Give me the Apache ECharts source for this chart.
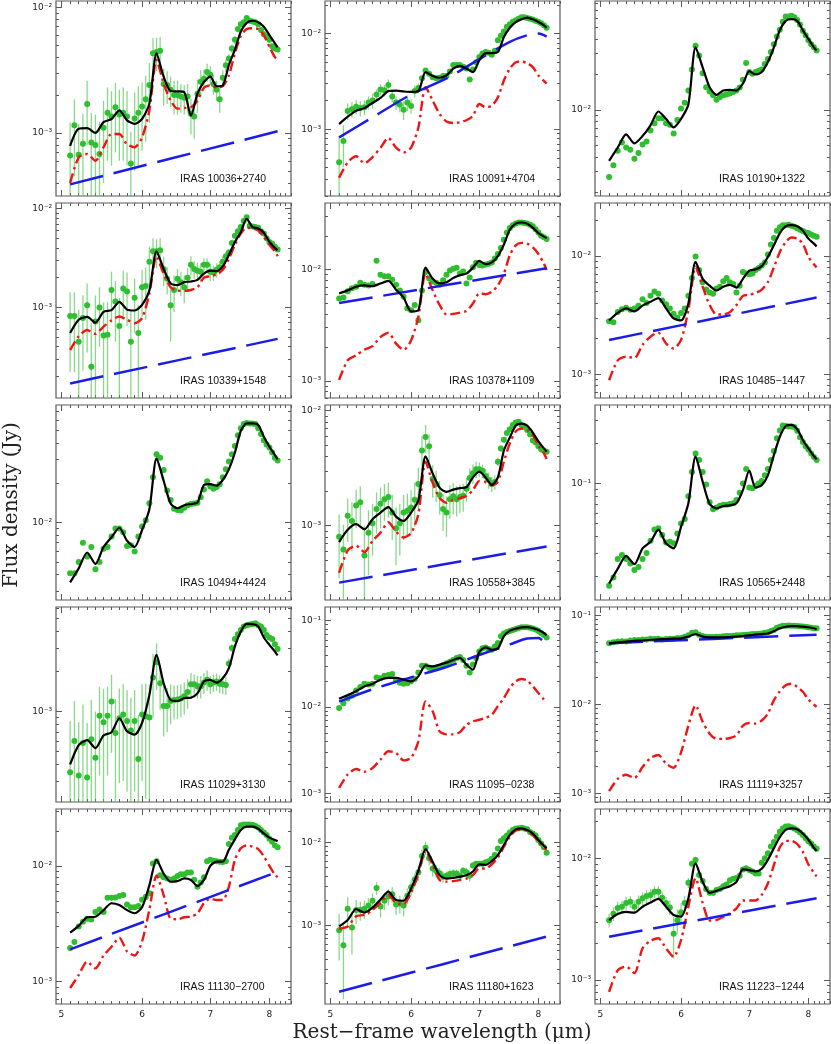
<!DOCTYPE html>
<html>
<head>
<meta charset="utf-8">
<title>IRAS mid-infrared spectra</title>
<script src="https://cdn.jsdelivr.net/npm/echarts@6.0.0/dist/echarts.min.js"></script>
<style>
  html, body { margin: 0; padding: 0; background: #fff; }
  #chart { width: 831px; height: 1044px; }
</style>
</head>
<body>
<div id="chart"></div>
<script>
"use strict";

// wavelength grids (micron): observed points every 0.05, fitted curves every 0.1
var waveData = [5.10, 5.15, 5.20, 5.25, 5.30, 5.35, 5.40, 5.45, 5.50, 5.55, 5.60, 5.65, 5.70, 5.75, 5.80, 5.85, 5.90, 5.95, 6.00, 6.05, 6.10, 6.15, 6.20, 6.25, 6.30, 6.35, 6.40, 6.45, 6.50, 6.55, 6.60, 6.65, 6.70, 6.75, 6.80, 6.85, 6.90, 6.95, 7.00, 7.05, 7.10, 7.15, 7.20, 7.25, 7.30, 7.35, 7.40, 7.45, 7.50, 7.55, 7.60, 7.65, 7.70, 7.75, 7.80, 7.85, 7.90, 7.95, 8.00, 8.05, 8.10, 8.15];
var waveModel = [5.1, 5.2, 5.3, 5.4, 5.5, 5.6, 5.7, 5.8, 5.9, 6.0, 6.1, 6.2, 6.3, 6.4, 6.5, 6.6, 6.7, 6.8, 6.9, 7.0, 7.1, 7.2, 7.3, 7.4, 7.5, 7.6, 7.7, 7.8, 7.9, 8.0, 8.1, 8.15];

// all fluxes below in mJy
// IRAS 10036+2740
var flux10036 = [0.66, 1.15, 0.67, 0.82, 1.7, 0.84, 0.8, 0.68, 1.1, 1.45, 1.35, 1.6, 1.4, 1.45, 1.35, 0.57, 1.3, 1.45, 1.62, 1.85, 2.4, 4.3, 4.4, 4.5, 2.45, 2.4, 2.2, 2.0, 2.0, 1.95, 1.9, 1.95, 1.42, 1.35, 2.05, 2.55, 2.7, 3.05, 2.9, 2.45, 2.2, 1.85, 2.75, 3.45, 3.9, 4.7, 5.5, 6.7, 7.3, 7.6, 8.2, 7.8, 7.7, 7.6, 7.3, 6.6, 6.1, 5.8, 5.5, 4.9, 4.7, 4.6];
var err10036 = [0.55, 0.7, 0.5, 0.6, 0.9, 0.6, 0.6, 0.55, 0.7, 0.85, 0.8, 0.9, 0.8, 0.85, 0.8, 0.45, 0.8, 0.9, 0.9, 1.0, 1.2, 1.4, 1.3, 1.3, 0.8, 0.7, 0.6, 0.6, 0.6, 0.5, 0.5, 0.5, 0.45, 0.45, 0.6, 0.6, 0.5, 0.5, 0.5, 0.45, 0.4, 0.4, 0.4, 0.4, 0.35, 0.35, 0.4, 0.4, 0.35, 0.3, 0.3, 0.3, 0.3, 0.3, 0.3, 0.25, 0.25, 0.25, 0.25, 0.2, 0.2, 0.2];
var model10036 = [0.79, 1.08, 1.09, 1.0, 1.22, 1.29, 1.51, 1.26, 1.18, 1.29, 1.71, 4.3, 2.8, 2.16, 2.14, 2.11, 1.37, 2.05, 2.54, 2.8, 2.35, 2.39, 3.46, 4.6, 6.4, 7.5, 7.8, 7.6, 7.0, 6.0, 5.15, 4.8];
var pah10036 = [0.40, 0.64, 0.68, 0.60, 0.77, 0.98, 0.98, 0.81, 0.77, 0.92, 1.51, 3.8, 2.47, 1.81, 1.56, 1.58, 1.6, 1.81, 2.29, 2.39, 2.29, 2.35, 2.87, 4.3, 5.9, 6.7, 6.8, 6.7, 6.0, 4.84, 4.0, 3.8];
var cont10036 = [[5.1, 0.39], [8.15, 1.03]];

// IRAS 10091+4704
var flux10091 = [0.45, 0.75, 1.55, 1.62, 1.72, 1.66, 1.7, 1.9, 2.0, 2.3, 2.6, 2.55, 2.9, 2.2, 1.9, 1.8, 1.6, 1.9, 1.75, 2.5, 2.7, 3.4, 4.1, 3.8, 3.5, 3.4, 3.45, 3.6, 3.6, 4.0, 4.7, 4.7, 4.7, 4.5, 4.3, 3.3, 4.2, 5.0, 5.7, 6.2, 6.4, 6.3, 6.0, 6.6, 8.5, 9.5, 10.5, 11.8, 12.5, 13.3, 13.8, 14.3, 14.8, 14.8, 14.5, 14.3, 14.0, 13.6, 13.3, 12.8, 12.2, 11.5];
var err10091 = [0.4, 0.35, 0.3, 0.3, 0.3, 0.3, 0.3, 0.3, 0.35, 0.3, 0.35, 0.35, 0.4, 0.3, 0.3, 0.3, 0.35, 0.35, 0.3, 0.35, 0.3, 0.2, 0.15, 0.1, 0.1, 0.1, 0.1, 0.1, 0.1, 0.1, 0.1, 0.1, 0.1, 0.1, 0.1, 0.1, 0.1, 0.1, 0.1, 0.1, 0.1, 0.1, 0.1, 0.1, 0.1, 0.1, 0.1, 0.1, 0.1, 0.1, 0.1, 0.1, 0.1, 0.1, 0.1, 0.1, 0.1, 0.1, 0.1, 0.1, 0.1, 0.1];
var model10091 = [1.13, 1.35, 1.56, 1.66, 1.88, 2.12, 2.5, 2.53, 2.48, 2.45, 2.5, 3.95, 3.6, 3.45, 3.65, 4.3, 4.6, 4.3, 3.95, 5.24, 6.25, 6.25, 6.4, 9.2, 11.5, 13.2, 14.1, 14.7, 14.1, 13.2, 12.2, 11.5];
var pah10091 = [0.31, 0.45, 0.52, 0.44, 0.51, 0.64, 0.81, 0.64, 0.57, 0.64, 1.04, 2.75, 1.99, 1.44, 1.2, 1.16, 1.18, 1.24, 1.38, 1.83, 1.7, 1.75, 2.15, 3.23, 4.3, 5.0, 5.1, 4.9, 4.46, 3.65, 3.2, 3.0];
var cont10091 = [[5.1, 0.82], [5.5, 1.33], [6.0, 2.3], [6.5, 3.4], [7.0, 5.4], [7.5, 8.2], [7.8, 9.6], [8.0, 10.0], [8.15, 9.3]];

// IRAS 10190+1322
var flux10190 = [2.7, 3.4, 4.5, 5.3, 4.8, 4.6, 3.85, 4.3, 5.1, 5.4, 6.7, 7.7, 8.5, 8.5, 7.7, 7.5, 6.3, 8.2, 10.3, 11.5, 14.6, 22, 35, 29, 20.5, 15.6, 14.3, 13.3, 12.2, 12.8, 13.3, 13.5, 13.8, 14.2, 14.6, 15.5, 18, 25, 21, 20.3, 21, 21.5, 22, 24.5, 27, 31, 36, 42, 48, 56, 62, 62, 63, 61, 58, 53, 47, 43, 39, 36, 34, 32];
var model10190 = [3.7, 4.8, 6.2, 5.2, 6.0, 7.4, 9.7, 8.4, 7.1, 8.4, 11.1, 34, 23, 15.6, 13.4, 14.6, 14.8, 14.6, 16.7, 21.3, 20.0, 21, 25.5, 34, 47.5, 57, 59, 57, 47.5, 40, 34, 32];

// IRAS 10339+1548
var flux10339 = [0.82, 0.82, 0.45, 0.78, 1.05, 0.25, 0.72, 1.0, 0.52, 0.53, 1.5, 1.15, 0.65, 1.55, 1.45, 0.45, 1.25, 0.55, 1.6, 1.65, 2.9, 3.7, 3.7, 3.8, 2.45, 1.95, 1.05, 1.5, 1.95, 1.8, 1.6, 2.0, 2.7, 2.45, 2.35, 2.3, 2.7, 2.7, 2.3, 2.25, 2.4, 2.55, 2.9, 3.3, 3.6, 4.5, 5.3, 5.9, 6.5, 7.5, 8.2, 6.7, 6.6, 6.5, 6.4, 5.9, 5.6, 5.0, 4.6, 4.4, 4.1, 3.85];
var err10339 = [0.6, 0.6, 0.5, 0.55, 0.7, 0.45, 0.6, 0.6, 0.6, 0.6, 0.8, 0.7, 0.6, 0.8, 0.8, 0.5, 0.7, 0.5, 0.8, 0.9, 1.2, 1.3, 1.2, 1.2, 0.8, 0.6, 0.6, 0.6, 0.5, 0.5, 0.5, 0.5, 0.6, 0.5, 0.5, 0.5, 0.45, 0.45, 0.45, 0.4, 0.4, 0.4, 0.4, 0.35, 0.3, 0.3, 0.3, 0.3, 0.25, 0.25, 0.25, 0.2, 0.2, 0.2, 0.2, 0.2, 0.2, 0.2, 0.15, 0.15, 0.15, 0.15];
var model10339 = [0.55, 0.75, 0.80, 0.70, 0.90, 0.94, 1.14, 0.95, 0.93, 1.06, 1.48, 3.7, 2.45, 1.75, 1.68, 1.80, 1.83, 1.90, 2.2, 2.36, 2.33, 2.6, 3.4, 4.6, 5.8, 7.9, 6.5, 6.3, 5.7, 4.6, 4.0, 3.8];
var pah10339 = [0.37, 0.51, 0.59, 0.54, 0.64, 0.74, 0.81, 0.75, 0.69, 0.78, 1.38, 3.3, 2.2, 1.6, 1.48, 1.47, 1.50, 1.6, 2.0, 2.07, 2.15, 2.4, 3.1, 4.3, 5.6, 6.4, 6.3, 6.0, 5.2, 4.3, 3.7, 3.3];
var cont10339 = [[5.1, 0.17], [8.15, 0.48]];

// IRAS 10378+1109
var flux10378 = [5.5, 5.6, 6.4, 6.8, 7.0, 7.6, 7.3, 7.2, 7.4, 12, 9.0, 8.7, 8.7, 8.1, 7.3, 6.5, 5.7, 4.5, 4.3, 4.8, 3.5, 6.5, 9.5, 8.3, 7.8, 7.6, 7.3, 8.0, 9.0, 9.8, 10.2, 10.4, 9.2, 9.6, 7.5, 8.5, 10.5, 11.5, 11.0, 10.9, 11.1, 11.3, 11.6, 12.6, 13.8, 15.6, 18.5, 21.5, 23.7, 25, 26, 26.5, 26.5, 26.2, 26, 25.3, 24.5, 23, 21.5, 20.2, 19.5, 18.8];
var model10378 = [6.1, 6.5, 7.0, 7.2, 7.1, 7.5, 7.9, 6.6, 5.6, 4.2, 4.3, 10.4, 8.3, 7.5, 7.7, 8.4, 8.9, 9.2, 10.4, 12, 11.2, 11.6, 13.2, 16.8, 22.8, 25.9, 26.5, 25.9, 23.8, 21.3, 19.8, 19.2];
var pah10378 = [1.02, 1.53, 1.70, 1.9, 2.05, 2.48, 2.7, 2.16, 1.9, 2.3, 3.76, 9.2, 6.5, 4.8, 3.95, 4.0, 4.1, 4.25, 4.95, 6.1, 6.0, 6.3, 7.2, 9.2, 13.5, 16.5, 17.4, 17.1, 15.8, 13.8, 11.3, 9.9];
var cont10378 = [[5.1, 5.0], [8.15, 10.3]];

// IRAS 10485-1447
var flux10485 = [2.8, 2.75, 3.35, 3.55, 3.65, 3.5, 3.6, 3.8, 4.3, 4.0, 4.6, 5.0, 4.8, 4.2, 3.9, 3.6, 3.25, 3.0, 3.3, 3.6, 4.6, 6.5, 9.9, 7.6, 6.0, 5.2, 4.9, 4.8, 5.3, 5.5, 6.1, 6.5, 6.0, 5.8, 4.9, 5.6, 7.3, 7.1, 7.0, 7.1, 7.6, 7.9, 8.3, 8.8, 10.3, 12.5, 14.2, 16.3, 17.5, 18.2, 18.2, 18.3, 18.0, 17.6, 17.1, 16.6, 16.2, 15.8, 15.6, 15.2, 14.8, 14.5];
var model10485 = [2.85, 3.3, 3.6, 3.4, 3.8, 4.1, 4.4, 3.6, 2.96, 2.85, 3.96, 8.9, 6.4, 5.6, 5.1, 5.5, 5.7, 5.4, 6.4, 7.5, 7.7, 8.2, 9.8, 12.3, 15.6, 17.8, 18.2, 17.8, 16.4, 14, 12.7, 12.0];
var pah10485 = [0.89, 1.31, 1.41, 1.37, 1.77, 2.08, 2.25, 1.82, 1.65, 1.95, 3.48, 8.1, 5.5, 3.85, 3.2, 3.2, 3.35, 3.85, 4.6, 4.7, 4.85, 5.2, 6.0, 8.0, 10.8, 13.1, 14.3, 14.0, 12.7, 9.8, 8.5, 8.0];
var cont10485 = [[5.1, 1.95], [8.15, 4.45]];

// IRAS 10494+4424
var flux10494 = [4.1, 4.1, 5.0, 7.0, 5.5, 6.5, 4.4, 5.0, 6.3, 6.5, 7.8, 9.0, 9.0, 8.4, 6.6, 6.7, 6.0, 7.8, 9.3, 10.4, 14, 22, 33, 31, 25, 17.5, 14.8, 12.7, 12.4, 12.3, 12.9, 13.5, 13.8, 13.9, 14.1, 15.5, 17.8, 20.5, 18.7, 18.0, 18.6, 19.5, 22, 25.3, 29, 33, 38, 46, 52, 56, 57, 56.5, 56.5, 56, 52, 47, 42, 39, 37, 34, 31, 29.5];
var model10494 = [3.5, 4.47, 5.9, 4.83, 6.5, 7.7, 9.1, 7.25, 6.5, 8.75, 12.6, 30.6, 20.7, 13.9, 12.8, 13.5, 13.8, 14.1, 19.2, 19.5, 19, 21, 25.3, 33.8, 49.7, 56.5, 56.5, 55, 44.8, 37.6, 32.5, 30.1];

// IRAS 10558+3845
var flux10558 = [0.8, 0.62, 1.22, 1.1, 1.5, 1.6, 0.55, 0.87, 1.05, 1.4, 1.55, 1.7, 1.78, 1.3, 0.95, 1.05, 1.3, 1.35, 1.44, 1.68, 2.3, 4.5, 5.9, 4.9, 2.55, 2.3, 1.85, 1.4, 1.3, 1.7, 1.8, 1.7, 1.78, 1.82, 2.1, 2.6, 2.85, 3.1, 3.1, 3.0, 2.7, 2.5, 2.3, 2.4, 3.6, 4.7, 5.6, 6.4, 6.9, 7.5, 7.9, 8.0, 7.5, 7.2, 6.8, 6.2, 5.5, 5.3, 4.9, 4.6, 4.5, 4.4];
var err10558 = [0.45, 0.4, 0.5, 0.5, 0.55, 0.6, 0.45, 0.5, 0.5, 0.55, 0.6, 0.6, 0.6, 0.55, 0.5, 0.5, 0.55, 0.55, 0.6, 0.7, 0.9, 1.5, 1.6, 1.3, 0.8, 0.7, 0.6, 0.5, 0.5, 0.55, 0.55, 0.5, 0.5, 0.5, 0.5, 0.55, 0.55, 0.5, 0.45, 0.4, 0.4, 0.4, 0.35, 0.35, 0.3, 0.3, 0.3, 0.3, 0.3, 0.3, 0.3, 0.3, 0.3, 0.3, 0.25, 0.25, 0.25, 0.25, 0.2, 0.2, 0.2, 0.2];
var model10558 = [0.72, 0.92, 1.03, 0.93, 1.14, 1.3, 1.45, 1.2, 1.1, 1.3, 1.66, 4.0, 2.85, 2.14, 1.97, 2.06, 2.12, 2.16, 2.63, 2.95, 2.63, 2.26, 2.63, 4.5, 5.85, 7.4, 7.7, 7.4, 6.44, 5.4, 4.7, 4.4];
var pah10558 = [0.39, 0.61, 0.67, 0.59, 0.74, 0.87, 1.07, 0.89, 0.79, 0.86, 1.26, 3.6, 2.36, 1.74, 1.58, 1.67, 1.74, 1.81, 2.04, 2.45, 2.4, 2.24, 2.41, 3.6, 5.2, 6.6, 7.0, 6.8, 6.1, 5.0, 4.26, 3.8];
var cont10558 = [[5.1, 0.32], [8.15, 0.66]];

// IRAS 10565+2448
var flux10565 = [17, 19.6, 27, 29, 27, 25, 22.3, 23.5, 27, 30, 37, 45, 46, 41, 36, 36.5, 35.5, 42, 50, 54, 80, 122, 168, 150, 122, 98, 72, 64, 66, 68, 69, 69, 70, 71, 75, 85, 100, 128, 93, 92, 96, 100, 104, 115, 128, 150, 175, 218, 250, 272, 270, 268, 268, 265, 248, 222, 205, 190, 180, 168, 158, 150];
var model10565 = [17.7, 22.8, 28.5, 24.7, 32.5, 36.4, 45, 35.4, 32.5, 47.2, 70.8, 159, 103, 70, 65, 67.6, 68.4, 70.8, 89, 125, 93, 97, 115, 163, 224, 270, 275, 255, 212, 183, 160, 152];

// IRAS 11029+3130
var flux11029 = [0.35, 0.60, 0.33, 0.58, 0.32, 0.62, 0.45, 0.93, 0.83, 0.93, 1.19, 0.69, 0.89, 0.95, 0.85, 0.72, 0.85, 0.44, 0.95, 0.92, 0.9, 1.8, 2.35, 1.63, 1.1, 1.1, 1.2, 1.22, 1.23, 1.25, 1.3, 1.4, 1.6, 1.6, 1.55, 1.55, 1.65, 1.73, 1.6, 1.65, 1.68, 1.62, 1.6, 1.58, 2.3, 3.0, 3.5, 3.8, 4.1, 4.35, 4.45, 4.5, 4.55, 4.6, 4.45, 4.35, 4.1, 3.75, 3.6, 3.5, 3.2, 2.95];
var err11029 = [0.5, 0.6, 0.5, 0.55, 0.5, 0.6, 0.55, 0.6, 0.65, 0.6, 0.7, 0.55, 0.6, 0.65, 0.6, 0.55, 0.6, 0.5, 0.65, 0.7, 0.7, 0.9, 0.9, 0.6, 0.45, 0.4, 0.4, 0.35, 0.35, 0.35, 0.35, 0.35, 0.35, 0.3, 0.3, 0.3, 0.3, 0.3, 0.25, 0.25, 0.25, 0.25, 0.25, 0.25, 0.2, 0.2, 0.2, 0.2, 0.2, 0.2, 0.2, 0.15, 0.15, 0.15, 0.15, 0.15, 0.15, 0.15, 0.15, 0.15, 0.15, 0.15];
var model11029 = [0.40, 0.56, 0.61, 0.53, 0.66, 0.70, 0.89, 0.71, 0.67, 0.82, 1.33, 2.67, 1.63, 1.22, 1.2, 1.26, 1.27, 1.37, 1.68, 1.73, 1.65, 1.78, 2.12, 3.08, 4.0, 4.55, 4.53, 4.35, 3.6, 3.17, 2.82, 2.64];

// IRAS 11095-0238
var flux11095 = [9.7, 11, 12.5, 13.5, 15.5, 17, 18.5, 18.2, 18.5, 22, 21.5, 23, 23.5, 24, 20.5, 19, 18.5, 18.8, 19.8, 21, 25, 30, 30, 28.5, 28, 28.5, 29, 30.5, 32, 33.5, 35, 37, 38, 35, 30, 25, 31, 37, 44, 48, 49, 47, 46, 50, 55, 66, 71, 74, 76, 78, 80, 82, 84, 84, 84, 83, 81, 79, 76, 72, 68, 64];
var model11095 = [12.4, 13.7, 15.2, 17.3, 18.5, 20.7, 21.7, 21.7, 20.7, 19.8, 22.6, 30.3, 29.5, 30.9, 32.6, 35, 37, 30.9, 27, 43.4, 49, 46, 47.5, 66, 76.5, 80.6, 83.6, 84.3, 82, 78, 72, 67.6];
var pah11095 = [1.15, 1.65, 1.91, 1.77, 1.96, 2.45, 3.06, 2.93, 2.4, 2.56, 4.0, 11.6, 8.9, 5.2, 4.8, 4.8, 5.1, 6.2, 6.8, 7.1, 7.5, 8.1, 10.2, 12.7, 16.6, 19.8, 21.1, 20.2, 17.3, 14.5, 12.2, 11.2];
var cont11095 = [[5.1, 11.5], [5.5, 16], [6.0, 22], [6.5, 29], [7.0, 40], [7.5, 53], [7.8, 62], [8.0, 63], [8.15, 52]];

// IRAS 11119+3257
var flux11119 = [49, 50, 51, 51.5, 51, 52.5, 53, 53, 54, 54, 55, 54.5, 55, 54, 54.5, 55, 55, 56, 56, 58, 60, 64, 65, 61, 59, 58, 57.5, 57.5, 58, 58, 58.5, 59, 59, 59.5, 60, 60, 60.5, 61, 61.5, 62, 62, 62.5, 63, 64, 65, 67, 69, 73, 75, 77, 77, 77.5, 77, 77, 76.5, 76, 75.5, 75, 74, 73, 72, 72];
var model11119 = [48.5, 50, 51, 52, 52.5, 53.5, 54, 54.5, 55, 55.5, 58, 62, 58, 57, 57, 57, 57.5, 58, 59, 60, 61, 62, 63, 67, 72, 75, 76, 76, 75, 74, 72, 70];
var pah11119 = [1.06, 1.46, 1.62, 1.49, 1.98, 2.5, 2.7, 2.16, 1.94, 2.9, 5.8, 9.8, 6.4, 4.7, 4.1, 4.1, 4.2, 4.5, 5.8, 6.2, 6.1, 6.6, 7.9, 11.2, 14.1, 16.5, 17.1, 15.8, 13.9, 11.4, 10, 9.4];
var cont11119 = [[5.1, 49], [8.15, 61]];

// IRAS 11130-2700
var flux11130 = [1.95, 2.2, 3.0, 3.3, 3.5, 3.45, 4.0, 4.2, 4.0, 5.3, 5.3, 5.35, 5.5, 5.6, 4.65, 4.4, 4.4, 4.5, 5.1, 5.4, 5.8, 10.5, 11, 8.3, 8.0, 7.8, 7.6, 7.8, 8.2, 8.5, 8.5, 8.8, 8.8, 7.6, 6.6, 7.2, 8.0, 11.0, 11.3, 11.1, 11.0, 10.9, 10.8, 11.0, 15.5, 17.5, 18.5, 20.5, 22.5, 22.8, 22.8, 22.8, 22.7, 22.2, 21.5, 20.5, 19.5, 18.5, 17.2, 16.2, 15.0, 14.5];
var model11130 = [2.65, 3.03, 3.6, 3.64, 4.15, 4.76, 4.6, 4.15, 3.9, 4.4, 6.8, 11.3, 8.6, 7.3, 7.4, 7.8, 7.57, 6.7, 7.57, 10, 10.9, 10.9, 13.8, 17, 20.5, 21.9, 21.9, 21, 19.1, 17.6, 16.8, 16.4];
var pah11130 = [0.88, 1.14, 1.49, 1.3, 1.68, 2.0, 2.4, 1.82, 1.68, 2.22, 4.2, 8.3, 5.6, 3.5, 3.46, 3.6, 3.64, 3.9, 4.76, 5.2, 5.08, 5.08, 6.6, 11.3, 14.2, 15.1, 14.7, 14, 12.1, 10, 8.4, 8.0];
var cont11130 = [[5.1, 1.9], [8.15, 8.9]];

// IRAS 11180+1623
var flux11180 = [0.88, 0.58, 1.6, 0.95, 1.55, 1.55, 1.6, 1.75, 2.0, 2.85, 1.7, 2.0, 2.25, 2.4, 1.8, 1.85, 1.75, 2.3, 2.9, 3.6, 4.4, 6.9, 8.7, 6.5, 4.9, 4.6, 4.3, 3.9, 4.0, 4.2, 4.3, 4.25, 4.0, 4.6, 4.4, 4.0, 5.3, 5.6, 5.6, 5.6, 5.8, 6.0, 6.4, 7.1, 8.5, 10.5, 11.3, 12.2, 13.3, 14.2, 14.8, 15.0, 15.2, 14.8, 14.5, 13.5, 12.9, 12.2, 10.8, 9.8, 8.8, 7.6];
var err11180 = [0.5, 0.45, 0.6, 0.5, 0.5, 0.4, 0.4, 0.4, 0.45, 0.5, 0.45, 0.45, 0.5, 0.5, 0.45, 0.45, 0.45, 0.5, 0.6, 0.7, 0.9, 1.4, 1.6, 1.2, 1.0, 0.8, 0.7, 0.6, 0.5, 0.55, 0.5, 0.5, 0.5, 0.5, 0.6, 0.6, 0.5, 0.4, 0.35, 0.3, 0.3, 0.3, 0.3, 0.3, 0.3, 0.3, 0.3, 0.3, 0.3, 0.3, 0.3, 0.3, 0.3, 0.3, 0.3, 0.3, 0.3, 0.3, 0.3, 0.3, 0.3, 0.3];
var model11180 = [0.98, 1.17, 1.59, 1.44, 1.65, 2.07, 2.57, 2.04, 2.0, 2.8, 4.6, 8.4, 5.9, 4.07, 3.7, 3.78, 3.9, 4.05, 4.5, 5.5, 5.4, 6.0, 7.1, 9.4, 12.4, 14.5, 14.9, 14.2, 12.9, 10.8, 9.2, 8.6];
var pah11180 = [0.92, 0.98, 1.3, 1.35, 1.55, 1.9, 2.35, 1.87, 1.82, 2.5, 4.2, 8.0, 5.4, 3.55, 3.4, 3.45, 3.55, 3.7, 4.07, 4.9, 4.9, 5.5, 6.6, 8.95, 11.8, 14, 14.5, 14, 12.4, 10.3, 8.7, 8.2];
var cont11180 = [[5.1, 0.16], [8.15, 0.74]];

// IRAS 11223-1244
var flux11223 = [3.1, 3.5, 3.9, 4.0, 4.3, 4.4, 4.0, 4.4, 4.7, 4.9, 5.0, 5.3, 5.3, 4.75, 4.3, 3.95, 2.4, 3.1, 3.6, 4.3, 6.3, 9.0, 9.7, 7.3, 6.5, 5.6, 5.2, 5.2, 5.5, 5.6, 5.9, 6.1, 6.6, 6.8, 6.9, 7.2, 8.1, 8.3, 8.0, 7.8, 7.5, 7.5, 9.2, 10.0, 11.0, 12.5, 13.6, 15, 16.5, 17.6, 18.2, 18.3, 18.0, 17.6, 17.0, 16.3, 15.5, 14.6, 13.8, 13.2, 12.5, 12.0];
var err11223 = [0.4, 0.45, 0.5, 0.5, 0.5, 0.5, 0.5, 0.55, 0.55, 0.6, 0.6, 0.6, 0.6, 0.55, 0.5, 0.55, 0.9, 0.7, 0.7, 0.6, 0.6, 0.6, 0.6, 0.5, 0.4, 0.35, 0.3, 0.3, 0.3, 0.3, 0.3, 0.3, 0.3, 0.3, 0.3, 0.3, 0.3, 0.3, 0.3, 0.3, 0.3, 0.3, 0.3, 0.3, 0.3, 0.3, 0.3, 0.3, 0.3, 0.3, 0.3, 0.3, 0.3, 0.3, 0.3, 0.3, 0.3, 0.3, 0.3, 0.3, 0.3, 0.3];
var model11223 = [3.11, 3.48, 3.63, 3.57, 4.0, 4.33, 4.64, 4.0, 3.42, 3.32, 4.7, 9.1, 6.4, 5.2, 5.4, 5.65, 5.9, 6.4, 8.1, 8.0, 7.8, 8.2, 9.7, 12.1, 14.9, 17.1, 17.6, 17.3, 16, 14.2, 12.2, 11.5];
var pah11223 = [0.8, 1.2, 1.29, 1.14, 1.82, 2.1, 2.2, 1.82, 1.55, 2.13, 4.0, 6.85, 4.3, 3.08, 3.11, 3.3, 3.53, 3.88, 4.5, 4.5, 4.5, 5.0, 6.2, 8.8, 12.3, 13.9, 13.9, 13.1, 11.3, 8.9, 7.6, 7.1];
var cont11223 = [[5.1, 2.27], [8.15, 4.7]];

var panels = [
  { name: "IRAS 10036+2740", flux: flux10036, err: err10036, model: model10036, pah: pah10036, cont: cont10036 },
  { name: "IRAS 10091+4704", flux: flux10091, err: err10091, model: model10091, pah: pah10091, cont: cont10091 },
  { name: "IRAS 10190+1322", flux: flux10190, model: model10190 },
  { name: "IRAS 10339+1548", flux: flux10339, err: err10339, model: model10339, pah: pah10339, cont: cont10339 },
  { name: "IRAS 10378+1109", flux: flux10378, model: model10378, pah: pah10378, cont: cont10378 },
  { name: "IRAS 10485\u22121447", flux: flux10485, model: model10485, pah: pah10485, cont: cont10485 },
  { name: "IRAS 10494+4424", flux: flux10494, model: model10494 },
  { name: "IRAS 10558+3845", flux: flux10558, err: err10558, model: model10558, pah: pah10558, cont: cont10558 },
  { name: "IRAS 10565+2448", flux: flux10565, model: model10565 },
  { name: "IRAS 11029+3130", flux: flux11029, err: err11029, model: model11029 },
  { name: "IRAS 11095\u22120238", flux: flux11095, model: model11095, pah: pah11095, cont: cont11095 },
  { name: "IRAS 11119+3257", flux: flux11119, model: model11119, pah: pah11119, cont: cont11119 },
  { name: "IRAS 11130\u22122700", flux: flux11130, model: model11130, pah: pah11130, cont: cont11130 },
  { name: "IRAS 11180+1623", flux: flux11180, err: err11180, model: model11180, pah: pah11180, cont: cont11180 },
  { name: "IRAS 11223\u22121244", flux: flux11223, err: err11223, model: model11223, pah: pah11223, cont: cont11223 }
];

// y range of each panel (Jy)
var yRange = [
  [3.15e-4, 1.12e-2], [2.0e-4, 2.19e-2], [1.86e-3, 8.4e-2],
  [1.21e-4, 1.14e-2], [7.0e-4, 3.97e-2], [6.3e-4, 2.8e-2],
  [2.57e-3, 7.8e-2], [2.26e-4, 1.12e-2], [1.33e-2, 3.88e-1],
  [2.09e-4, 6.1e-3], [7.9e-4, 1.44e-1], [8.0e-4, 1.25e-1],
  [6.4e-4, 3.11e-2], [1.14e-4, 2.55e-2], [6.35e-4, 2.54e-2]
];

var X_MIN = 4.94, X_MAX = 8.4;
var xMajor = [5, 6, 7, 8];

var colLeft = [56, 325, 595];
var colWidth = 235;
var rowTop = [1, 203, 405, 607, 809];
var rowHeight = 195;

var FRAME = "#5a5a5a";
var GREEN = "#2fbe2f";
var ERRBAR = "rgba(60, 190, 60, 0.6)";
var RED = "#f01515";
var BLUE = "#1c1ce8";

var xMinor = [];
for (var t = 50; t <= 84; t++) {
  if (t % 10 !== 0) xMinor.push(t / 10);
}

function logTicks(lo, hi) {
  var major = [], minor = [];
  for (var p = Math.floor(Math.log10(lo)); p <= Math.ceil(Math.log10(hi)); p++) {
    for (var k = 1; k <= 9; k++) {
      var v = k * Math.pow(10, p);
      if (v < lo || v > hi) continue;
      if (k === 1) major.push(v); else minor.push(v);
    }
  }
  return { major: major, minor: minor };
}

var SUP = { "-": "\u207b", "0": "\u2070", "1": "\u00b9", "2": "\u00b2", "3": "\u00b3", "4": "\u2074" };
function powLabel(v) {
  var e = String(Math.round(Math.log10(v)));
  return "10" + e.split("").map(function (c) { return SUP[c]; }).join("");
}

function toJy(xs, ys) {
  return ys.map(function (y, i) { return [xs[i], y / 1000]; });
}

function renderErr(params, api) {
  var cs = params.coordSys;
  var x = api.value(0), v = api.value(1), e = api.value(2);
  var hi = api.coord([x, v + e]);
  var yLo = v - e > 0 ? api.coord([x, v - e])[1] : cs.y + cs.height;
  var y1 = Math.max(cs.y, hi[1]);
  var y2 = Math.min(cs.y + cs.height, yLo);
  if (y2 <= y1) return null;
  return {
    type: "line",
    shape: { x1: hi[0], y1: y1, x2: hi[0], y2: y2 },
    style: { stroke: ERRBAR, lineWidth: 1.3 }
  };
}

var grids = [], xAxes = [], yAxes = [], series = [], texts = [];

panels.forEach(function (p, i) {
  var col = i % 3, row = Math.floor(i / 3);
  var left = colLeft[col], top = rowTop[row];
  grids.push({
    left: left, top: top, width: colWidth, height: rowHeight,
    show: true, borderColor: FRAME, borderWidth: 1.2, backgroundColor: "transparent",
    containLabel: false, outerBoundsMode: "none"
  });

  var bottomRow = row === 4;
  [["bottom", xMajor, 6, bottomRow], ["bottom", xMinor, 3, false],
   ["top", xMajor, 6, false], ["top", xMinor, 3, false]].forEach(function (a) {
    xAxes.push({
      type: "log", gridIndex: i, position: a[0], min: X_MIN, max: X_MAX,
      axisLine: { show: false },
      splitLine: { show: false },
      axisTick: { show: true, inside: true, length: a[2], customValues: a[1], lineStyle: { color: FRAME, width: 1 } },
      axisLabel: a[3] ? { show: true, customValues: xMajor, margin: 6, fontSize: 9, color: "#222", fontFamily: "DejaVu Sans" } : { show: false }
    });
  });

  var yr = yRange[i];
  var yt = logTicks(yr[0], yr[1]);
  [["left", yt.major, 6, true], ["left", yt.minor, 3, false],
   ["right", yt.major, 6, false], ["right", yt.minor, 3, false]].forEach(function (a) {
    yAxes.push({
      type: "log", gridIndex: i, position: a[0], min: yr[0], max: yr[1],
      axisLine: { show: false },
      splitLine: { show: false },
      axisTick: { show: true, inside: true, length: a[2], customValues: a[1], lineStyle: { color: FRAME, width: 1 } },
      axisLabel: a[3] ? { show: true, customValues: yt.major, formatter: powLabel, margin: 4, fontSize: 9, color: "#222", fontFamily: "DejaVu Sans" } : { show: false }
    });
  });

  var ax = i * 4;
  if (p.err) {
    series.push({
      type: "custom", xAxisIndex: ax, yAxisIndex: ax, silent: true, z: 1,
      renderItem: renderErr,
      data: p.flux.map(function (v, k) { return [waveData[k], v / 1000, p.err[k] / 1000]; })
    });
  }
  series.push({
    type: "scatter", xAxisIndex: ax, yAxisIndex: ax, z: 2, silent: true,
    symbol: "circle", symbolSize: 6,
    itemStyle: { color: GREEN, opacity: 1 },
    data: toJy(waveData, p.flux)
  });
  if (p.pah) {
    series.push({
      type: "line", xAxisIndex: ax, yAxisIndex: ax, z: 3, silent: true,
      showSymbol: false, smooth: 0.25,
      lineStyle: { color: RED, width: 2.4, type: [10, 4, 2.5, 4] },
      data: toJy(waveModel, p.pah)
    });
  }
  if (p.cont) {
    series.push({
      type: "line", xAxisIndex: ax, yAxisIndex: ax, z: 3, silent: true,
      showSymbol: false, smooth: 0.3,
      lineStyle: { color: BLUE, width: 2.5, type: [34, 11] },
      data: p.cont.map(function (c) { return [c[0], c[1] / 1000]; })
    });
  }
  series.push({
    type: "line", xAxisIndex: ax, yAxisIndex: ax, z: 4, silent: true,
    showSymbol: false, smooth: 0.25,
    lineStyle: { color: "#000", width: 2.2 },
    data: toJy(waveModel, p.model)
  });

  texts.push({
    type: "text", left: left + colWidth - 16 - 95, top: top + rowHeight - 22,
    style: {
      text: p.name, x: 0, y: 0, width: 95,
      font: "10.5px 'Liberation Sans', sans-serif", fill: "#111",
      textAlign: "right", align: "right"
    },
    z: 10
  });
});

texts.push({
  type: "text", x: 12, y: 505, rotation: Math.PI / 2,
  style: {
    text: "Flux density (Jy)", x: 0, y: 0,
    font: "20px 'DejaVu Serif', serif", fill: "#222",
    textAlign: "center", align: "center", textVerticalAlign: "middle", verticalAlign: "middle"
  }
});
texts.push({
  type: "text", x: 442, y: 1033,
  style: {
    text: "Rest\u2212frame wavelength (\u03bcm)", x: 0, y: 0,
    font: "20px 'DejaVu Serif', serif", fill: "#222",
    textAlign: "center", align: "center", textVerticalAlign: "middle", verticalAlign: "middle"
  }
});

var chart = echarts.init(document.getElementById("chart"), null, { renderer: "canvas" });
chart.setOption({
  animation: false,
  backgroundColor: "#fff",
  textStyle: { fontFamily: "DejaVu Sans" },
  grid: grids,
  xAxis: xAxes,
  yAxis: yAxes,
  series: series,
  graphic: { elements: texts }
});
</script>
</body>
</html>
